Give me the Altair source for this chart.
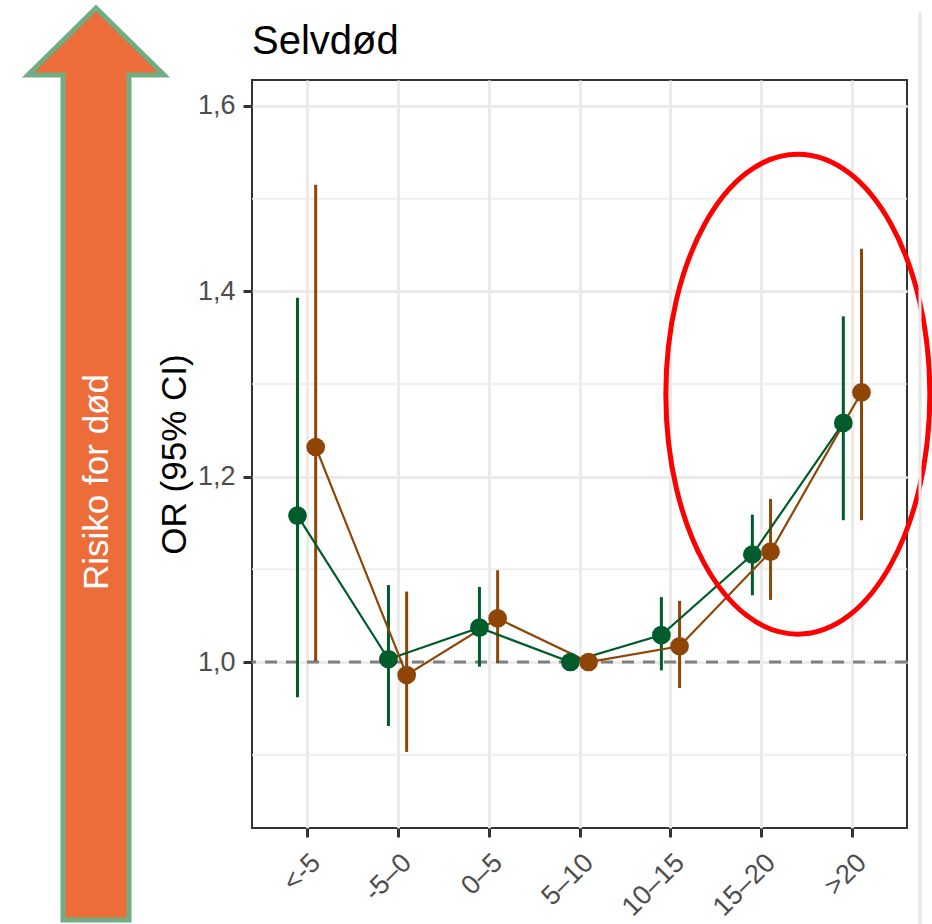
import json
import altair as alt
import pandas as pd

# ---------------- data ----------------
categories = ["<-5", "-5–0", "0–5", "5–10", "10–15", "15–20", ">20"]
series_names = ["Gruppe 1", "Gruppe 2"]
series_colors = ["#005C2A", "#8E4506"]

green_or = [1.158, 1.003, 1.037, 1.000, 1.029, 1.116, 1.258]
green_lo = [0.962, 0.931, 0.995, 1.000, 0.991, 1.072, 1.153]
green_hi = [1.393, 1.083, 1.081, 1.000, 1.070, 1.159, 1.373]

brown_or = [1.232, 0.986, 1.047, 1.000, 1.017, 1.119, 1.291]
brown_lo = [1.001, 0.903, 0.999, 1.000, 0.972, 1.067, 1.153]
brown_hi = [1.515, 1.076, 1.099, 1.000, 1.066, 1.176, 1.446]

y_ticks = [1.0, 1.2, 1.4, 1.6]
y_minor = [0.9, 1.1, 1.3, 1.5]
reference_value = [1.0]

title_text = "Selvdød"
y_title = "OR (95% CI)"
arrow_text = "Risiko for død"

# ---------------- table ----------------
rows = []
for name, ors, los, his in [
    (series_names[0], green_or, green_lo, green_hi),
    (series_names[1], brown_or, brown_lo, brown_hi),
]:
    for i, c in enumerate(categories):
        rows.append({"idx": i, "category": c, "series": name,
                     "OR": ors[i], "lo": los[i], "hi": his[i]})
df = pd.DataFrame(rows)

FONT = "Liberation Sans"
W, H = 655, 748

xscale = alt.Scale(domain=[-0.6, 6.6], nice=False, zero=False)
yscale = alt.Scale(domain=[0.8209, 1.628], nice=False, zero=False)

cat_js = json.dumps(categories, ensure_ascii=False)
xaxis = alt.Axis(
    values=list(range(len(categories))),
    labelExpr=f"{cat_js}[datum.value]",
    title=None, labelAngle=-45, labelAlign="right", labelBaseline="top",
    labelFlush=False, labelOverlap=False, labelPadding=12, grid=True,
)
yaxis = alt.Axis(
    values=y_ticks,
    labelExpr="replace(format(datum.value, '.1f'), '.', ',')",
    title=y_title, labelPadding=8, titlePadding=5, grid=True,
    labelFlush=False, labelOverlap=False,
)


def Y(field):
    return alt.Y(field, type="quantitative", scale=yscale, axis=yaxis)


def X(field):
    return alt.X(field, type="quantitative", scale=xscale, axis=xaxis)


color = alt.Color("series:N",
                  scale=alt.Scale(domain=series_names, range=series_colors),
                  legend=None)

offset_expr = f"datum.idx + (datum.series == {json.dumps(series_names[0])} ? -0.1 : 0.1)"
base = alt.Chart(df).transform_calculate(xpos=offset_expr)

minor_grid = alt.Chart(pd.DataFrame({"ym": y_minor})).mark_rule(
    color="#ebebeb", strokeWidth=1.5
).encode(y=Y("ym"))

ref_line = alt.Chart(pd.DataFrame({"ref": reference_value})).mark_rule(
    color="#808080", strokeWidth=3, strokeDash=[12, 9]
).encode(y=Y("ref"))

errbars = base.mark_rule(strokeWidth=3).encode(
    x=X("xpos"), y=Y("lo"), y2=alt.Y2("hi:Q"), color=color
)
lines = base.mark_line(strokeWidth=2.2).encode(
    x=X("xpos"), y=Y("OR"), color=color, detail="series:N",
    order=alt.Order("idx:Q")
)
points = base.mark_circle(size=350, opacity=1).encode(
    x=X("xpos"), y=Y("OR"), color=color
)

# red ellipse annotation (custom symbol path, size=4 -> path units are pixels)
ellipse_path = ("M 132 0 C 132 132.6 72.9 240 0 240 C -72.9 240 -132 132.6 -132 0 "
                "C -132 -132.6 -72.9 -240 0 -240 C 72.9 -240 132 -132.6 132 0 Z")
ellipse = alt.Chart(pd.DataFrame({"a": [0]})).mark_point(
    shape=ellipse_path, size=4, filled=False, stroke="#FF0000",
    strokeWidth=5, opacity=1
).encode(x=alt.datum(5.4), y=alt.datum(1.289))

# orange arrow at the left
arrow_path = ("M 0 -72 L 68 -5 L 33 -5 L 33 840 L -33 840 L -33 -5 L -68 -5 Z")
arrow = alt.Chart(pd.DataFrame({"a": [0]})).mark_point(
    shape=arrow_path, size=4, filled=True, fill="#EC6C3A", stroke="#70AD82",
    strokeWidth=5, opacity=1
).encode(x=alt.value(-156), y=alt.value(0))

arrow_label = alt.Chart(pd.DataFrame({"t": [arrow_text]})).mark_text(
    angle=270, fontSize=35, color="white", font=FONT, align="center",
    baseline="middle"
).encode(text="t:N", x=alt.value(-155), y=alt.value(402))

title_mark = alt.Chart(pd.DataFrame({"t": [title_text]})).mark_text(
    fontSize=40, color="black", font=FONT, align="left", baseline="alphabetic"
).encode(text="t:N", x=alt.value(0), y=alt.value(-26))

edge_shadow = alt.Chart(pd.DataFrame({"a": [0]})).mark_rule(
    color="#e6e6e6", strokeWidth=3
).encode(x=alt.value(668), y=alt.value(-68), y2=alt.value(850))

chart = alt.layer(
    minor_grid, ref_line, errbars, lines, points, ellipse, arrow,
    arrow_label, title_mark, edge_shadow
).properties(
    width=W, height=H,
    padding={"left": 252, "top": 80, "right": 25, "bottom": 96},
    autosize=alt.AutoSizeParams(type="none"),
    background="white",
).configure_view(
    stroke="#333333", strokeWidth=2
).configure_axis(
    domain=False, gridColor="#ebebeb", gridWidth=3,
    tickColor="#333333", tickWidth=3, tickSize=9,
    labelFont=FONT, labelFontSize=27, labelColor="#4d4d4d",
    titleFont=FONT, titleFontSize=35, titleColor="black",
    titleFontWeight="normal",
)

chart.save("out.html", embed_options={"renderer": "svg", "actions": False})
